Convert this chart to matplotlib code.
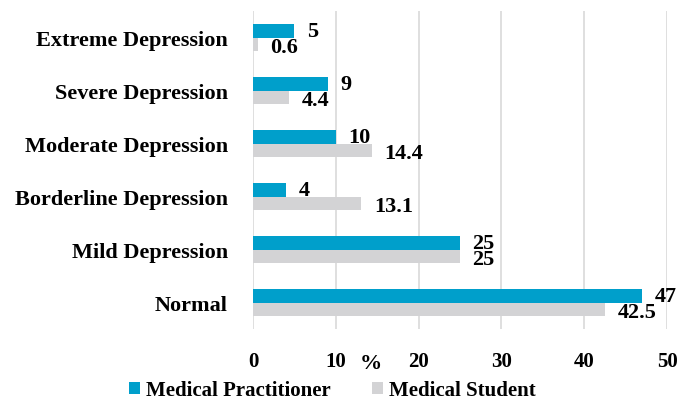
import numpy as np
import matplotlib.pyplot as plt

# данные
categories = ["Normal", "Mild Depression", "Borderline Depression",
              "Moderate Depression", "Severe Depression", "Extreme Depression"]
practitioner = [47, 25, 4, 10, 9, 5]
student = [42.5, 25, 13.1, 14.4, 4.4, 0.6]
student_labels = ["42.5", "25", "13.1", "14.4", "4.4", "0.6"]

blue = "#009FCB"
grey = "#D3D3D5"

plt.rcParams["font.family"] = ["Liberation Serif", "DejaVu Serif"]
plt.rcParams["font.weight"] = "bold"

fig = plt.figure(figsize=(6.92, 4.02), dpi=100)
ax = fig.add_axes([0.3656, 0.179, 0.5983, 0.791])

y = np.arange(len(categories))
h = 0.25
ax.barh(y + h / 2, practitioner, height=h, color=blue, label="Medical Practitioner", zorder=2)
ax.barh(y - h / 2, student, height=h, color=grey, label="Medical Student", zorder=2)

for yi, v in zip(y, practitioner):
    ax.annotate(str(v), (v, yi + h / 2), xytext=(9, 0), textcoords="offset points",
                ha="left", va="center", fontsize=16, fontweight="bold")
for yi, v, s in zip(y, student, student_labels):
    ax.annotate(s, (v, yi - h / 2), xytext=(9, -2), textcoords="offset points",
                ha="left", va="center", fontsize=16, fontweight="bold")

ax.set_xlim(0, 50)
ax.set_ylim(-0.5, 5.5)
ax.set_xticks([0, 10, 20, 30, 40, 50])
ax.set_yticks(y)
ax.set_yticklabels(categories)
ax.tick_params(axis="x", length=0, pad=16, labelsize=15)
ax.tick_params(axis="y", length=0, pad=18, labelsize=16)
ax.grid(axis="x", color="#D9D9D9", linewidth=1.2, zorder=0)
for s in ax.spines.values():
    s.set_visible(False)

fig.text(0.536, 0.095, "%", ha="center", va="center", fontsize=16, fontweight="bold")

fig.legend(loc="center", bbox_to_anchor=(0.48, 0.027), ncol=2, frameon=False,
           fontsize=15, handlelength=0.55, handleheight=0.55, handletextpad=0.25,
           columnspacing=2.0, borderpad=0)

fig.savefig("out.png", dpi=100)
